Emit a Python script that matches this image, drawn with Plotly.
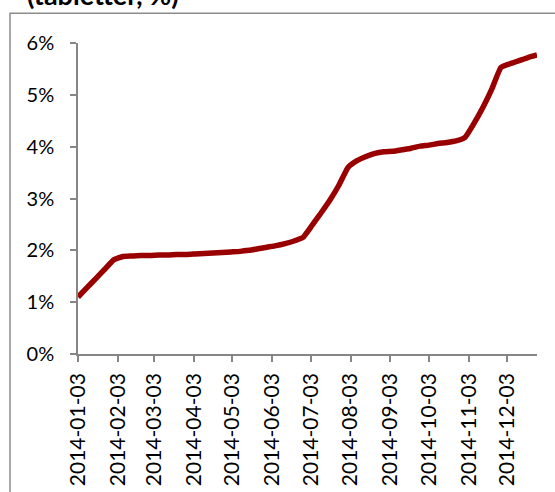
import plotly.graph_objects as go

# Weekly observations (Fridays), share in percent
dates = [
    "2014-01-03", "2014-01-10", "2014-01-17", "2014-01-24", "2014-01-31",
    "2014-02-07", "2014-02-14", "2014-02-21", "2014-02-28",
    "2014-03-07", "2014-03-14", "2014-03-21", "2014-03-28",
    "2014-04-04", "2014-04-11", "2014-04-18", "2014-04-25",
    "2014-05-02", "2014-05-09", "2014-05-16", "2014-05-23", "2014-05-30",
    "2014-06-06", "2014-06-13", "2014-06-20", "2014-06-27",
    "2014-07-04", "2014-07-11", "2014-07-18", "2014-07-25",
    "2014-08-01", "2014-08-08", "2014-08-15", "2014-08-22", "2014-08-29",
    "2014-09-05", "2014-09-12", "2014-09-19", "2014-09-26",
    "2014-10-03", "2014-10-10", "2014-10-17", "2014-10-24", "2014-10-31",
    "2014-11-07", "2014-11-14", "2014-11-21", "2014-11-28",
    "2014-12-05", "2014-12-12", "2014-12-19", "2014-12-26",
]
values = [
    1.10, 1.28, 1.46, 1.64, 1.82,
    1.88, 1.89, 1.90, 1.90,
    1.91, 1.91, 1.92, 1.92,
    1.93, 1.94, 1.95, 1.96,
    1.97, 1.98, 2.00, 2.03, 2.06,
    2.09, 2.13, 2.18, 2.25,
    2.48, 2.72, 2.97, 3.26,
    3.60, 3.73, 3.81, 3.87, 3.90,
    3.91, 3.94, 3.97, 4.01,
    4.03, 4.06, 4.08, 4.11, 4.18,
    4.45, 4.76, 5.12, 5.53,
    5.60, 5.66, 5.72, 5.77,
]
tick_dates = [
    "2014-01-03", "2014-02-03", "2014-03-03", "2014-04-03", "2014-05-03",
    "2014-06-03", "2014-07-03", "2014-08-03", "2014-09-03", "2014-10-03",
    "2014-11-03", "2014-12-03",
]
tick_labels = list(tick_dates)
y_ticks = [0, 1, 2, 3, 4, 5, 6]
title_text = "(tabletter, %)"

W, H = 555, 492
L, R, T, B = 78, 18, 42.7, 137.7
pw, ph = W - L - R, H - T - B

FONT = "Lato"
AX = "#868686"

fig = go.Figure()
fig.add_trace(go.Scatter(
    x=dates, y=values, mode="lines",
    line=dict(color="#990000", width=5.5, shape="spline", smoothing=0.4),
    showlegend=False, hoverinfo="skip",
))

fig.update_layout(
    width=W, height=H,
    margin=dict(l=L, r=R, t=T, b=B, pad=0, autoexpand=False),
    paper_bgcolor="white", plot_bgcolor="white",
    font=dict(family=FONT, size=20, color="#000000"),
    showlegend=False,
)
fig.update_xaxes(
    type="date", range=["2014-01-03", "2014-12-26"], automargin=False,
    tickmode="array", tickvals=tick_dates, ticktext=tick_labels,
    tickangle=-90, ticks="outside", ticklen=6, tickwidth=1.5, tickcolor=AX,
    showline=True, linecolor=AX, linewidth=1.5,
    showgrid=False, zeroline=False, ticklabelstandoff=3,
    tickfont=dict(family=FONT, size=21, color="#000000"),
)
fig.update_yaxes(
    range=[0, 6], tickmode="array", tickvals=y_ticks, automargin=False,
    ticktext=[f"{v}%" for v in y_ticks],
    ticks="outside", ticklen=6, tickwidth=1.5, tickcolor=AX,
    showline=True, linecolor=AX, linewidth=1.5,
    showgrid=False, zeroline=False, ticklabelstandoff=12,
    tickfont=dict(family=FONT, size=20, color="#000000"),
)

# outer chart border (left and top visible; right/bottom fall outside the image)
bx0 = (10 - L) / pw
by1 = 1 + (T - 13) / ph
fig.add_shape(type="rect", xref="paper", yref="paper",
              x0=bx0, x1=1.2, y0=-0.6, y1=by1,
              line=dict(color="#8c8c8c", width=1.5), fillcolor="rgba(0,0,0,0)",
              layer="below")

# cut-off title above the border
fig.add_annotation(text=f"<b>{title_text}</b>", xref="paper", yref="paper",
                   x=(25 - L) / pw, y=1 + (T - 9) / ph,
                   xanchor="left", yanchor="bottom", yshift=-4, showarrow=False,
                   font=dict(family=FONT, size=27, color="#000000"))

fig.write_html("out.html", config={"displayModeBar": False},
               post_script="document.body.style.margin='0px';document.body.style.overflow='hidden';")
